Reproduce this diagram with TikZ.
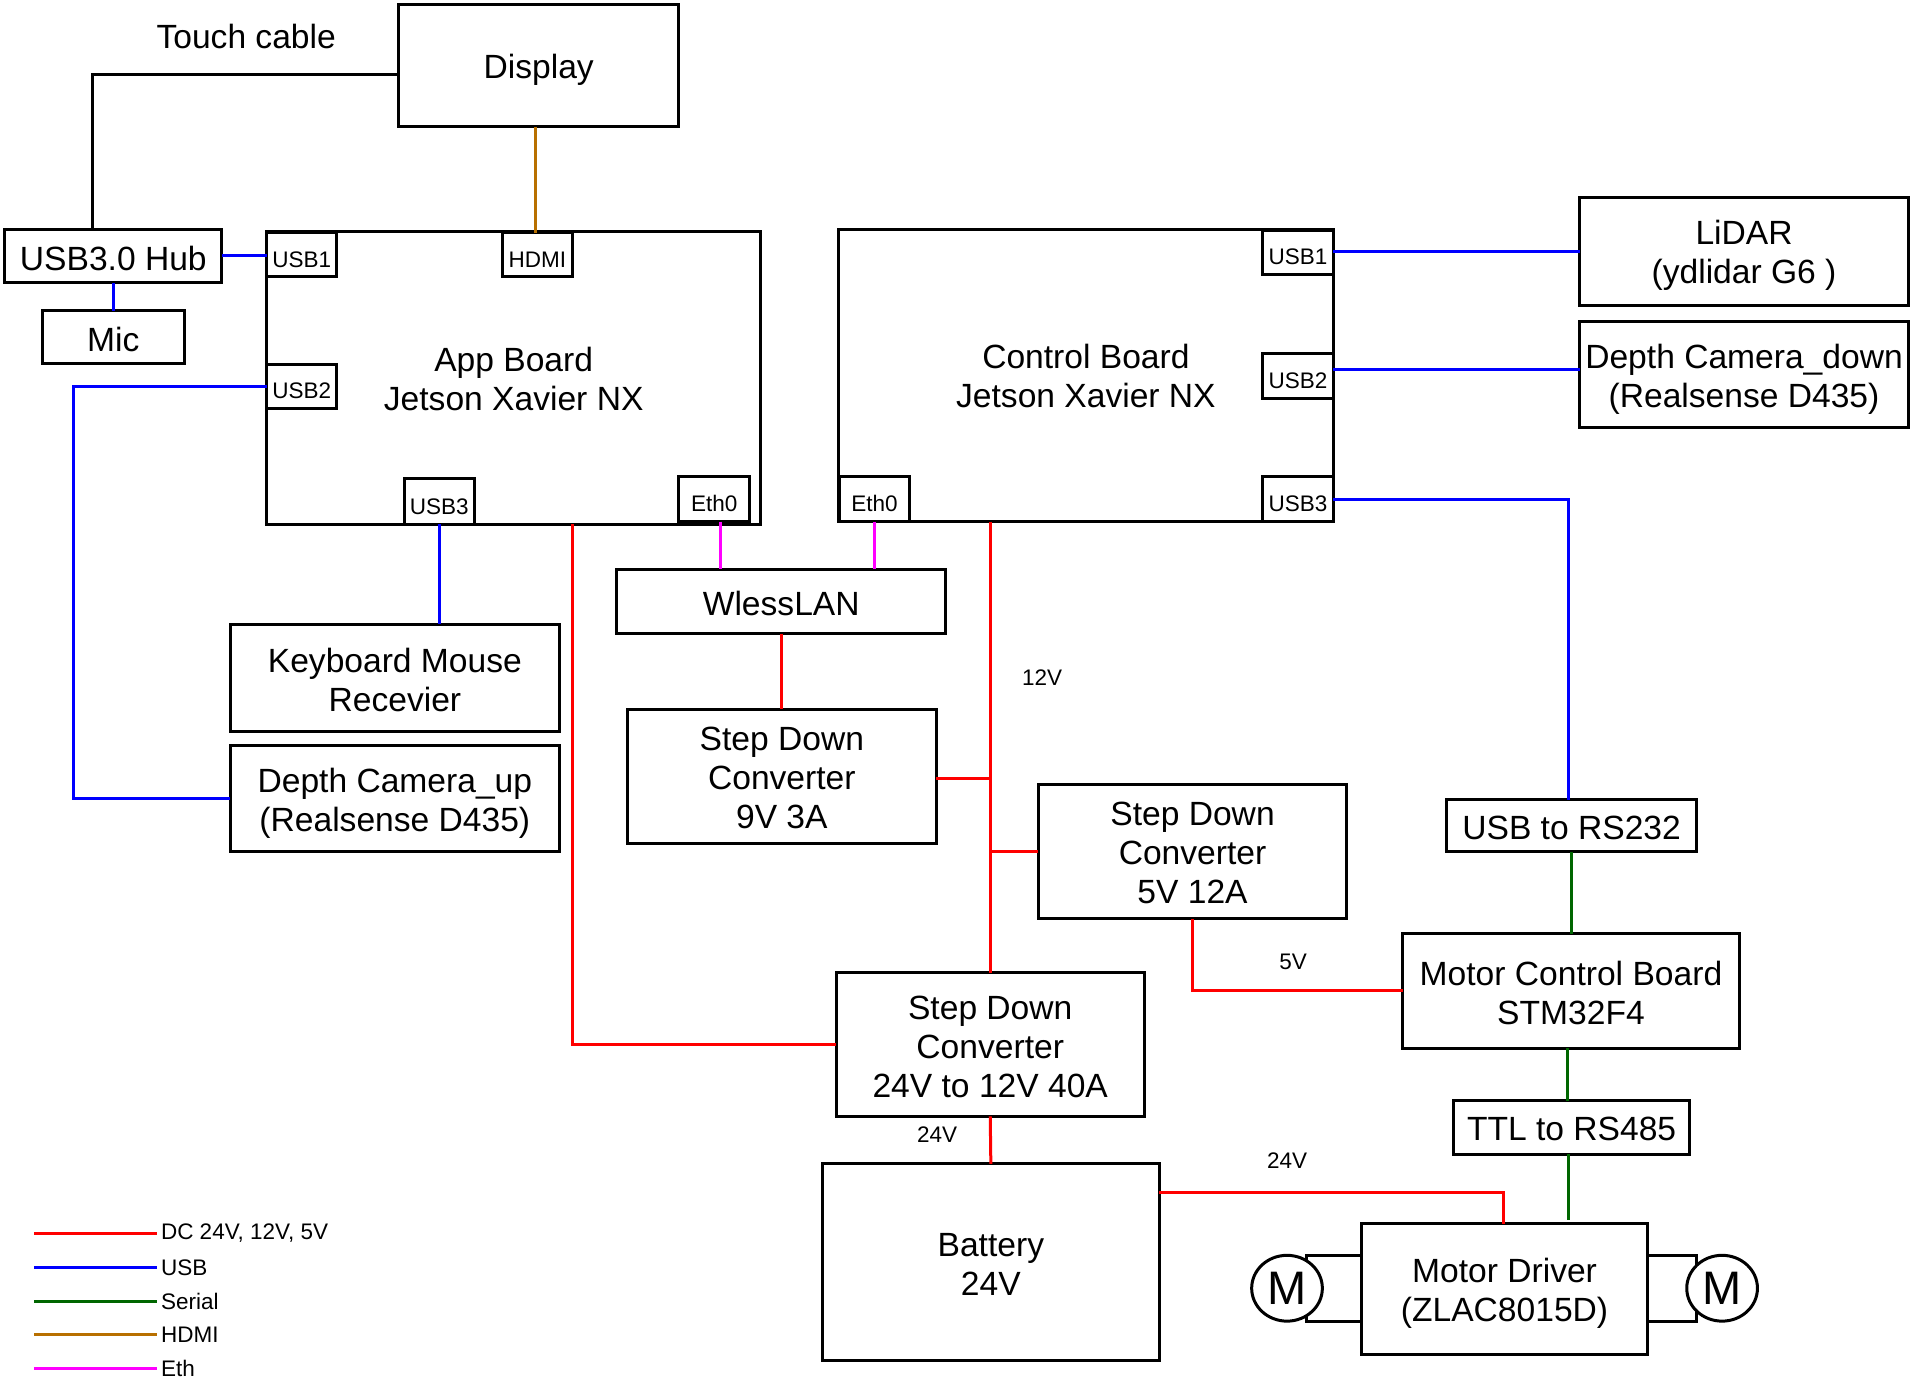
\documentclass[tikz,border=0pt]{standalone}
\usepackage{fontspec}
\usetikzlibrary{shapes.geometric}
\setmainfont{Liberation Sans}
\definecolor{hdmibrown}{HTML}{B87000}
\definecolor{ethpink}{HTML}{FF00FF}
\definecolor{serialgreen}{HTML}{006600}
\newcommand{\dnr}[1]{\rule{0pt}{\dimexpr 24pt+#1pt+#1pt\relax}}
\tikzset{
wh/.style 2 args={minimum width=#1*1.2188pt, minimum height=#2*1.2188pt},
dn/.style={execute at begin node={\rule{0pt}{\dimexpr 24pt+#1pt+#1pt\relax}}},
pdn/.style={execute at begin node={\rule{0pt}{\dimexpr 16.5pt+#1pt+#1pt\relax}}},
blk/.style={draw, line width=3pt, inner sep=0pt, outer sep=0pt, align=center, font=\fontsize{33.6}{39}\selectfont},
port/.style={draw, line width=3pt, inner sep=0pt, outer sep=0pt, pdn=4.5, font=\fontsize{22.5}{27}\selectfont},
small/.style={inner sep=0pt, font=\fontsize{22.5}{27}\selectfont},
legtxt/.style={inner sep=3.6pt, anchor=west, font=\fontsize{22.5}{27}\selectfont},
motor/.style={draw, ellipse, fill=white, line width=3pt, inner sep=0pt, wh={58}{54}, font=\fontsize{47}{50}\selectfont},
wire/.style={line width=3pt},
dcw/.style={line width=3pt, red},
usbw/.style={line width=3pt, blue},
serw/.style={line width=3pt, serialgreen},
hdmiw/.style={line width=3pt, hdmibrown},
ethw/.style={line width=3pt, ethpink},
}
\begin{document}
\begin{tikzpicture}[x=1.2188pt, y=-1.2188pt]
\useasboundingbox (0,0) rectangle (1568,1143);
\node[blk, wh={230}{100}, dn=4.5] (display) at (442,54){Display};
\node[blk, wh={178}{44}, dn=2.5] (hub) at (93,210){USB3.0 Hub};
\node[blk, wh={116}{43}, dn=2.5] (mic) at (93,276.5){Mic};
\node[blk, wh={405}{240}] (app) at (421.5,310){\dnr{1}App Board\\Jetson Xavier NX};
\node[port, wh={57}{36}] (au1) at (247.5,209){USB1};
\node[port, wh={58}{36}] (ahdmi) at (441,209){HDMI};
\node[port, wh={57}{36}] (au2) at (247.5,317){USB2};
\node[port, wh={57}{37}] (au3) at (360.5,411.5){USB3};
\node[port, wh={58}{37}] (ae0) at (586,409.5){Eth0};
\node[blk, wh={406}{240}] (ctrl) at (891,308){\dnr{1}Control Board\\Jetson Xavier NX};
\node[port, wh={58}{37}] (ce0) at (717.5,409.5){Eth0};
\node[port, wh={58}{36}] (cu1) at (1065,207){USB1};
\node[port, wh={58}{37}] (cu2) at (1065,308.5){USB2};
\node[port, wh={58}{37}] (cu3) at (1065,409.5){USB3};
\node[blk, wh={270}{89}] (lidar) at (1431,206.5){\dnr{3.6}LiDAR\\(ydlidar G6 )};
\node[blk, wh={270}{87}] (ddown) at (1431,307.5){\dnr{4.8}Depth Camera\_down\\(Realsense D435)};
\node[blk, wh={270}{53}, dn=1.8] (wless) at (641,493.5){WlessLAN};
\node[blk, wh={270}{88}] (kb) at (324,556){\dnr{2.4}Keyboard Mouse\\Recevier};
\node[blk, wh={270}{87}] (dup) at (324,655.5){\dnr{4.8}Depth Camera\_up\\(Realsense D435)};
\node[blk, wh={253}{110}] (s9) at (641.5,637){\dnr{1.2}Step Down\\Converter\\9V 3A};
\node[blk, wh={253}{110}] (s5) at (978.5,699){\dnr{1.2}Step Down\\Converter\\5V 12A};
\node[blk, wh={253}{118}] (s24) at (812.5,857){\dnr{2.4}Step Down\\Converter\\24V to 12V 40A};
\node[blk, wh={205}{43}, dn=1.8] (usbrs) at (1289.5,677.5){USB to RS232};
\node[blk, wh={276}{94}] (mcb) at (1289,813){\dnr{2.4}Motor Control Board\\STM32F4};
\node[blk, wh={193}{44}, dn=1.2] (ttl) at (1289.5,925){TTL to RS485};
\node[blk, wh={276}{161}] (batt) at (813,1035.5){\dnr{2.4}Battery\\24V};
\node[blk, wh={235}{107}] (drv) at (1234.5,1057.5){\dnr{4.8}Motor Driver\\(ZLAC8015D)};
\node[blk, draw=none] (touch) at (202,30){Touch cable};
\node[small] (v12) at (855,556){12V};
\node[small] (v5) at (1061,789){5V};
\node[small] (v24a) at (769,931){24V};
\node[small] (v24b) at (1056,952){24V};
% free ends and bends
\coordinate (tapt) at (76,61);
\coordinate (taph) at (439,0);
\coordinate (tapu) at (60,317);
\coordinate (tapd) at (0,303);
\coordinate (tapc) at (1287,0);
\coordinate (tapa) at (470,0);
\coordinate (tapj) at (813,639);
\coordinate (tapb) at (1234,978.5);
\coordinate (tapg) at (1286,0);
\coordinate (tape) at (1287,1001);
\coordinate (tapn) at (591,0);
\coordinate (mla) at (1072,1030);
\coordinate (mlb) at (1072,1084);
\coordinate (mra) at (1392,1030);
\coordinate (mrb) at (1392,1084);
\draw[wire](display.west |- tapt) -- (tapt) -- (hub.north -| tapt);
\draw[hdmiw](display.south -| taph) -- (ahdmi.north -| taph);
\draw[usbw](hub.east) -- (hub.east -| au1.west);
\draw[usbw](hub.south) -- (mic.north);
\draw[usbw](au2.west) -- (tapu) -- (tapu |- dup.west) -- (dup.west);
\draw[usbw](au3.south) -- (au3.south |- kb.north);
\draw[usbw](cu1.east |- lidar.west) -- (lidar.west);
\draw[usbw](cu2.east |- tapd) -- (ddown.west |- tapd);
\draw[usbw](cu3.east) -- (cu3.east -| tapc) -- (usbrs.north -| tapc);
\draw[ethw](ae0.south -| tapn) -- (wless.north -| tapn);
\draw[ethw](ce0.south) -- (ce0.south |- wless.north);
\draw[dcw](wless.south -| s9.north) -- (s9.north);
\draw[dcw](ctrl.south -| s24.north) -- (s24.north);
\draw[dcw](s9.east |- tapj) -- (tapj);
\draw[dcw](s5.west) -- (s5.west -| s24.north);
\draw[dcw](app.south -| tapa) -- (s24.west -| tapa) -- (s24.west);
\draw[dcw](s24.south) -- (batt.north);
\draw[dcw](s5.south) -- (s5.south |- mcb.west) -- (mcb.west);
\draw[dcw](batt.east |- tapb) -- (tapb) -- (drv.north -| tapb);
\draw[serw](usbrs.south) -- (usbrs.south |- mcb.north);
\draw[serw](mcb.south -| tapg) -- (ttl.north -| tapg);
\draw[serw](ttl.south -| tape) -- (tape);
\draw[wire](drv.west |- mla) -- (mla) -- (mlb) -- (drv.west |- mlb);
\draw[wire](drv.east |- mra) -- (mra) -- (mrb) -- (drv.east |- mrb);
\node[motor] (ml) at (1056,1057){M};
\node[motor] (mr) at (1413,1057){M};
% legend
\coordinate (lgs) at (28,0);
\node[legtxt] (lgdc) at (129,1012){DC 24V, 12V, 5V};
\node[legtxt] (lgusb) at (129,1040){USB};
\node[legtxt] (lgser) at (129,1068){Serial};
\node[legtxt] (lghdmi) at (129,1095){HDMI};
\node[legtxt] (lgeth) at (129,1123){Eth};
\draw[dcw](lgs |- lgdc.west) -- (lgdc.west);
\draw[usbw](lgs |- lgusb.west) -- (lgusb.west);
\draw[serw](lgs |- lgser.west) -- (lgser.west);
\draw[hdmiw](lgs |- lghdmi.west) -- (lghdmi.west);
\draw[ethw](lgs |- lgeth.west) -- (lgeth.west);
\end{tikzpicture}
\end{document}
